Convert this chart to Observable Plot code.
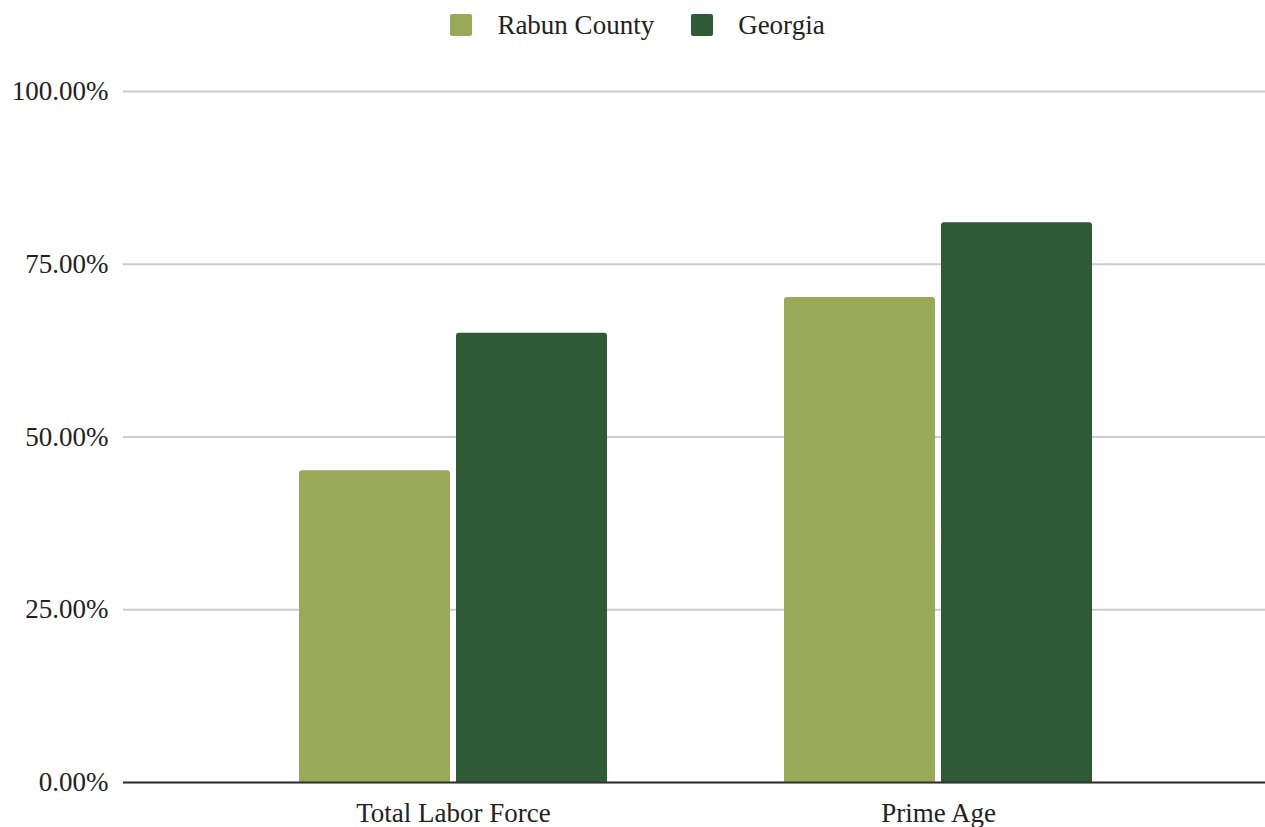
<!DOCTYPE html>
<html>
<head>
<meta charset="utf-8">
<script src="https://cdn.jsdelivr.net/npm/d3@7"></script>
<script src="https://cdn.jsdelivr.net/npm/@observablehq/plot@0.6"></script>
<style>
  html, body { margin: 0; padding: 0; background: #fff; overflow: hidden; }
  #legend { height: 52px; width: 1265px; display: flex; justify-content: center; align-items: center;
    font-family: "Liberation Serif", serif; font-size: 27px; color: #222; padding-left: 10px; padding-bottom: 2px; box-sizing: border-box; }
  .item { display: flex; align-items: center; }
  .sw { width: 22px; height: 22px; border-radius: 2px; margin-right: 25px; }
  .item + .item { margin-left: 37px; }
</style>
</head>
<body>
<div id="legend"></div>
<div id="chart"></div>
<script>
const categories = ["Total Labor Force", "Prime Age"];
const series = ["Rabun County", "Georgia"];
const rabun = [45.1, 70.2];
const georgia = [65.0, 81.0];
const yTicks = [0, 25, 50, 75, 100];
const colors = ["#98a957", "#2e5a35"];

const rabunData = categories.map((c, i) => ({category: c, series: series[0], value: rabun[i]}));
const georgiaData = categories.map((c, i) => ({category: c, series: series[1], value: georgia[i]}));

// legend
const legend = document.getElementById("legend");
series.forEach((s, i) => {
  const it = document.createElement("div");
  it.className = "item";
  const sw = document.createElement("div");
  sw.className = "sw";
  sw.style.background = colors[i];
  const t = document.createElement("span");
  t.textContent = s;
  it.appendChild(sw); it.appendChild(t);
  legend.appendChild(it);
});

const gap = 157;
const chart = Plot.plot({
  width: 1265,
  height: 775,
  marginTop: 39,
  marginBottom: 45,
  marginLeft: 123,
  marginRight: 0,
  style: {fontFamily: "Liberation Serif, serif", fontSize: "27px", color: "#222", background: "#fff"},
  x: {domain: categories, paddingInner: 0.364, paddingOuter: 0.357, align: 0.504, tickSize: 0, tickPadding: 20, label: null},
  y: {domain: [0, 100], ticks: yTicks, tickFormat: d => d.toFixed(2) + "%", tickSize: 0, tickPadding: 15, label: null},
  marks: [
    Plot.ruleY(yTicks, {stroke: "#cccccc", strokeWidth: 2}),
    Plot.barY(rabunData, {x: "category", y: "value", fill: colors[0], insetRight: gap, rx: 3}),
    Plot.barY(rabunData, {x: "category", y: d => d.value / 2, fill: colors[0], insetRight: gap}),
    Plot.barY(georgiaData, {x: "category", y: "value", fill: colors[1], insetLeft: gap, rx: 3}),
    Plot.barY(georgiaData, {x: "category", y: d => d.value / 2, fill: colors[1], insetLeft: gap}),
    Plot.ruleY([0], {stroke: "#333333", strokeWidth: 2})
  ]
});
document.getElementById("chart").appendChild(chart);
</script>
</body>
</html>
